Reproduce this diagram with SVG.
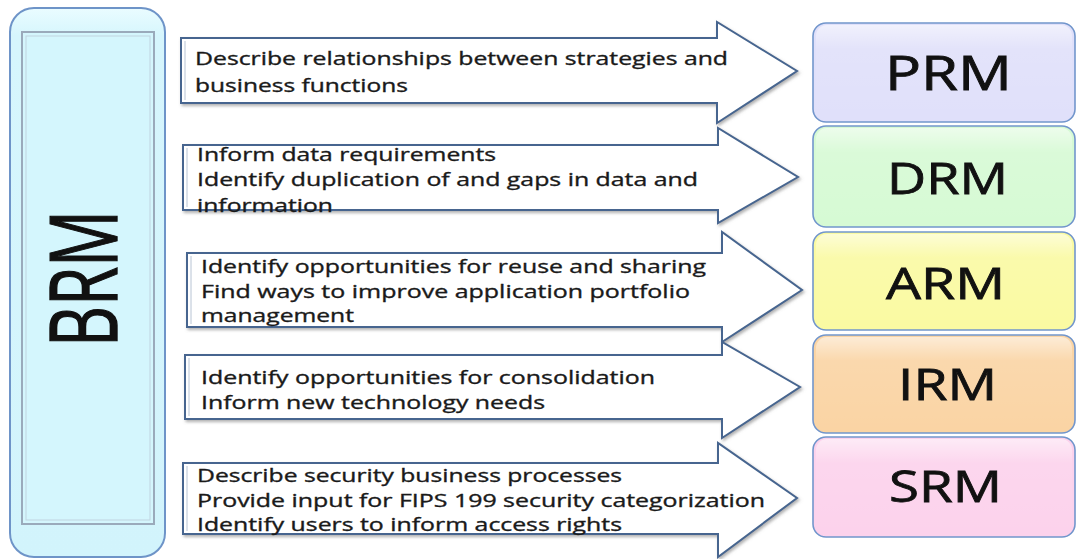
<svg xmlns="http://www.w3.org/2000/svg" width="1076" height="559" viewBox="0 0 1076 559">
  <style>
    .arrow { fill: #ffffff; stroke: #46658f; stroke-width: 2; stroke-linejoin: miter; filter: url(#sh); }
    .arrow-in { fill: none; stroke: #b8c4d4; stroke-width: 1; }
    .desc { font-family: "Open Sans", "Liberation Sans", sans-serif; font-size: 18px; fill: #1a1a1a; stroke: #1a1a1a; stroke-width: 0.35px; }
    .lbl { font-family: "Open Sans", "Liberation Sans", sans-serif; font-size: 44px; fill: #111111; stroke: #111111; stroke-width: 0.8px; text-anchor: middle; }
    .big { font-size: 93px; stroke-width: 1.4px; }
    .prm { font-size: 47px; }
    .box { stroke: #7296cc; stroke-width: 1.6; }
    .gloss { fill: url(#gl); stroke: none; }
  </style>
  <defs>
    <filter id="sh" x="-5%" y="-10%" width="110%" height="125%">
      <feDropShadow dx="1.5" dy="2" stdDeviation="1.5" flood-color="#707070" flood-opacity="0.55"/>
    </filter>
    <linearGradient id="gl" x1="0" y1="0" x2="0" y2="1">
      <stop offset="0" stop-color="#ffffff" stop-opacity="0.55"/>
      <stop offset="0.25" stop-color="#ffffff" stop-opacity="0.1"/>
      <stop offset="1" stop-color="#ffffff" stop-opacity="0"/>
    </linearGradient>
    <linearGradient id="brmg" x1="0" y1="0" x2="0" y2="1">
      <stop offset="0" stop-color="#eafcff"/>
      <stop offset="0.05" stop-color="#d6f6fd"/>
      <stop offset="1" stop-color="#d2f4fc"/>
    </linearGradient>
  </defs>

  <!-- BRM node -->
  <g id="node-brm">
    <rect x="10" y="8" width="155" height="549" rx="24" fill="url(#brmg)" stroke="#6e94c8" stroke-width="2"/>
    <rect x="22" y="32" width="132" height="492" fill="#d4f6fd" stroke="#9aaabb" stroke-width="2"/>
    <rect x="26" y="36" width="124" height="484" fill="none" stroke="#c0d4e0" stroke-width="1"/>
    <text class="lbl big" transform="translate(117,278.5) rotate(-90)" x="0" y="0" textLength="137" lengthAdjust="spacingAndGlyphs">BRM</text>
  </g>

  <!-- Right-hand nodes -->
  <g id="node-prm">
    <rect class="box" x="813" y="23" width="262" height="99" rx="13" fill="#e0e0fa"/>
    <rect class="gloss" x="816" y="25" width="256" height="95" rx="11"/>
    <text class="lbl prm" x="948.5" y="90" textLength="127" lengthAdjust="spacingAndGlyphs">PRM</text>
  </g>
  <g id="node-drm">
    <rect class="box" x="813" y="126" width="262" height="101" rx="13" fill="#d6fad4"/>
    <rect class="gloss" x="816" y="128" width="256" height="97" rx="11"/>
    <text class="lbl" x="947.5" y="194" textLength="121" lengthAdjust="spacingAndGlyphs">DRM</text>
  </g>
  <g id="node-arm">
    <rect class="box" x="813" y="232" width="262" height="98" rx="13" fill="#fafaa2"/>
    <rect class="gloss" x="816" y="234" width="256" height="94" rx="11"/>
    <text class="lbl" x="945.5" y="299" textLength="119" lengthAdjust="spacingAndGlyphs">ARM</text>
  </g>
  <g id="node-irm">
    <rect class="box" x="813" y="335" width="262" height="98" rx="13" fill="#fad4a4"/>
    <rect class="gloss" x="816" y="337" width="256" height="94" rx="11"/>
    <text class="lbl" x="947.5" y="400" textLength="99" lengthAdjust="spacingAndGlyphs">IRM</text>
  </g>
  <g id="node-srm">
    <rect class="box" x="813" y="437" width="262" height="100" rx="13" fill="#fcd2ec"/>
    <rect class="gloss" x="816" y="439" width="256" height="96" rx="11"/>
    <text class="lbl" x="945.5" y="502" textLength="113" lengthAdjust="spacingAndGlyphs">SRM</text>
  </g>

  <!-- Connectors: block arrows with their texts -->
  <g id="connectors">
    <g id="arrow-prm">
      <path class="arrow" d="M181,38 H717 V22 L797,71 L717,123 V103 H181 Z"/>
      <path class="arrow-in" d="M185,100 V41"/>
      <text class="desc" x="195" y="65" textLength="533" lengthAdjust="spacingAndGlyphs">Describe relationships between strategies and</text>
      <text class="desc" x="195" y="92" textLength="213" lengthAdjust="spacingAndGlyphs">business functions</text>
    </g>
    <g id="arrow-drm">
      <path class="arrow" d="M183,145 H718 V128 L798,177 L718,223 V210 H183 Z"/>
      <path class="arrow-in" d="M187,207 V148"/>
      <text class="desc" x="197" y="161" textLength="299" lengthAdjust="spacingAndGlyphs">Inform data requirements</text>
      <text class="desc" x="197" y="186" textLength="501" lengthAdjust="spacingAndGlyphs">Identify duplication of and gaps in data and</text>
      <text class="desc" x="197" y="212" textLength="136" lengthAdjust="spacingAndGlyphs">information</text>
    </g>
    <g id="arrow-arm">
      <path class="arrow" d="M187,253 H722 V232 L802,290 L722,342 V327 H187 Z"/>
      <path class="arrow-in" d="M191,324 V256"/>
      <text class="desc" x="201" y="273" textLength="505" lengthAdjust="spacingAndGlyphs">Identify opportunities for reuse and sharing</text>
      <text class="desc" x="201" y="298" textLength="489" lengthAdjust="spacingAndGlyphs">Find ways to improve application portfolio</text>
      <text class="desc" x="201" y="322" textLength="153" lengthAdjust="spacingAndGlyphs">management</text>
    </g>
    <g id="arrow-irm">
      <path class="arrow" d="M185,355 H722 V342 L800,387 L722,438 V419 H185 Z"/>
      <path class="arrow-in" d="M189,416 V358"/>
      <text class="desc" x="201" y="384" textLength="454" lengthAdjust="spacingAndGlyphs">Identify opportunities for consolidation</text>
      <text class="desc" x="201" y="409" textLength="344" lengthAdjust="spacingAndGlyphs">Inform new technology needs</text>
    </g>
    <g id="arrow-srm">
      <path class="arrow" d="M183,463 H718 V443 L797,498 L718,557 V534 H183 Z"/>
      <path class="arrow-in" d="M187,531 V466"/>
      <text class="desc" x="197" y="482" textLength="425" lengthAdjust="spacingAndGlyphs">Describe security business processes</text>
      <text class="desc" x="197" y="507" textLength="568" lengthAdjust="spacingAndGlyphs">Provide input for FIPS 199 security categorization</text>
      <text class="desc" x="197" y="531" textLength="425" lengthAdjust="spacingAndGlyphs">Identify users to inform access rights</text>
    </g>
  </g>
</svg>
